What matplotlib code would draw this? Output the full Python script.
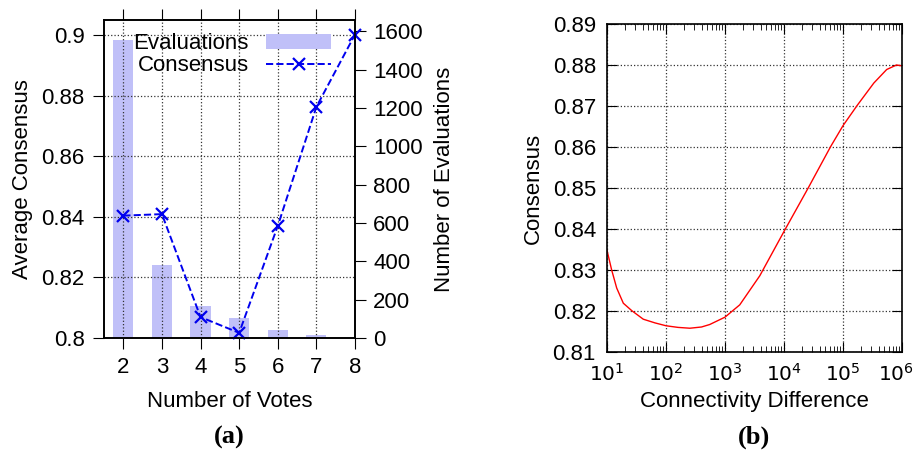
import numpy as np
import matplotlib
matplotlib.use('Agg')
import matplotlib.pyplot as plt
import matplotlib.transforms as mtransforms
from matplotlib.ticker import LogLocator, NullFormatter

plt.rcParams['font.family'] = ['Liberation Sans', 'DejaVu Sans']

# panel (a) data
votes = [2, 3, 4, 5, 6, 7, 8]
evaluations = [1558, 379, 167, 103, 40, 14, 2]
consensus = [0.8404, 0.8409, 0.8069, 0.8017, 0.8370, 0.8763, 0.9002]

# panel (b) data
conn_diff = [10, 12.0, 14.6, 18.9, 26.2, 41.2, 65, 100, 160, 254, 400, 550,
             1000, 1778, 3890, 10000, 25700, 61700, 100000, 173000, 333000,
             550000, 807000, 1000000]
conn_consensus = [0.8348, 0.8300, 0.8256, 0.8219, 0.8201, 0.8180, 0.8171,
                  0.8164, 0.8160, 0.8158, 0.8161, 0.8167, 0.8185, 0.8215,
                  0.8286, 0.8394, 0.8500, 0.8601, 0.8652, 0.8701, 0.8756,
                  0.8789, 0.8800, 0.8798]

FS = 16

fig = plt.figure(figsize=(9.15, 4.5), dpi=100)

# PANEL (a)
# ############################################################################
ax1 = fig.add_axes([104 / 915, 1 - 338 / 450, 251 / 915, 318 / 450])
ax2 = ax1.twinx()
ax1.set_zorder(ax2.get_zorder() + 1)
ax1.patch.set_visible(False)

bars = ax2.bar(votes, evaluations, width=0.52, color='#c0c0f8', zorder=1)
ax2.set_ylim(0, 1660)
ax2.set_yticks(range(0, 1601, 200))
ax2.set_ylabel('Number of Evaluations', fontsize=FS, labelpad=8)

line, = ax1.plot(votes, consensus, color='#0000ee', linestyle='--',
                 marker='x', markersize=8, markeredgewidth=1.6,
                 linewidth=1.4, clip_on=False)
ax1.set_xlim(1.5, 8)
ax1.set_ylim(0.8, 0.905)
ax1.set_xticks(votes)
ax1.set_yticks([0.8, 0.82, 0.84, 0.86, 0.88, 0.9])
ax1.set_yticklabels(['0.8', '0.82', '0.84', '0.86', '0.88', '0.9'])
ax1.set_xlabel('Number of Votes', fontsize=FS, labelpad=9)
ax1.set_ylabel('Average Consensus', fontsize=FS, labelpad=6)
ax1.grid(True, linestyle=':', color='#333333', linewidth=0.9)
ax1.tick_params(direction='out', length=8, labelsize=FS, top=True, pad=6)
ax2.tick_params(direction='out', length=8, labelsize=FS, pad=5)
for ax in (ax1, ax2):
    for sp in ax.spines.values():
        sp.set_linewidth(1.2)

leg = ax1.legend([bars, line], ['Evaluations', 'Consensus'],
                 loc='upper right', bbox_to_anchor=(0.948, 0.993),
                 markerfirst=False, frameon=False, fontsize=FS,
                 handlelength=2.9, borderaxespad=0.1, labelspacing=0.05,
                 handletextpad=0.8)
for t in leg.get_texts():
    t.set_ha('right')

fig.text(229 / 915, 1 - 437 / 450, '(a)', family='Liberation Serif',
         fontweight='bold', fontsize=19, ha='center', va='center')

# PANEL (b)
# ############################################################################
ax3 = fig.add_axes([607 / 915, 1 - 352 / 450, 295 / 915, 328 / 450])
ax3.plot(conn_diff, conn_consensus, color='#ff0000', linewidth=1.0)
ax3.set_xscale('log')
ax3.set_xlim(10, 1e6)
ax3.set_ylim(0.81, 0.89)
ax3.set_yticks(np.arange(0.81, 0.8901, 0.01))
ax3.set_yticklabels(['%.2f' % v for v in np.arange(0.81, 0.8901, 0.01)])
ax3.set_xticks([10, 100, 1000, 10000, 100000, 1000000])
ax3.set_xticklabels(['$10^{%d}$' % k for k in range(1, 7)])
ax3.xaxis.set_minor_locator(LogLocator(base=10, subs=np.arange(2, 10) * 1.0,
                                       numticks=20))
ax3.xaxis.set_minor_formatter(NullFormatter())
ax3.set_xlabel('Connectivity Difference', fontsize=FS, labelpad=4)
ax3.set_ylabel('Consensus', fontsize=FS, labelpad=6)
ax3.grid(True, which='major', linestyle=':', color='#333333', linewidth=0.9)
ax3.tick_params(which='both', direction='in', top=True, right=True,
                labelsize=FS, pad=8)
ax3.tick_params(axis='x', labelsize=14.5)
ax3.tick_params(which='major', length=7)
ax3.tick_params(which='minor', length=4)
for sp in ax3.spines.values():
    sp.set_linewidth(1.2)

# keep the last log label inside the canvas
last = ax3.get_xticklabels()[-1]
last.set_transform(last.get_transform() +
                   mtransforms.ScaledTranslation(-4 / 72, 0,
                                                 fig.dpi_scale_trans))

fig.text(754 / 915, 1 - 437 / 450, '(b)', family='Liberation Serif',
         fontweight='bold', fontsize=19, ha='center', va='center')

fig.savefig('out.png', dpi=100)
